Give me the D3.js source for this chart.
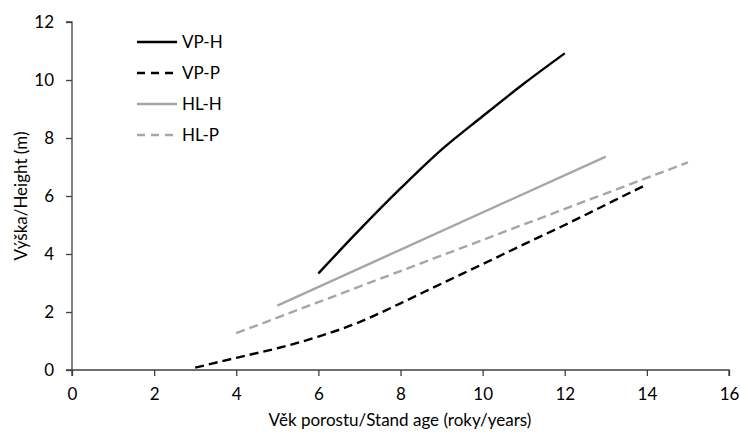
<!DOCTYPE html>
<html>
<head>
<meta charset="utf-8">
<script src="https://cdn.jsdelivr.net/npm/d3@7"></script>
<style>
  body { margin: 0; background: #fff; }
  text { font-family: Lato, "Open Sans", sans-serif; fill: #000; }
</style>
</head>
<body>
<div id="wrapper"></div>
<script>
// data
const vpH = [[6, 3.33], [7, 4.83], [8, 6.26], [9, 7.6], [10, 8.75], [11, 9.87], [12, 10.92]];
const vpP = [[3, 0.08], [4, 0.42], [5, 0.75], [6, 1.15], [7, 1.65], [8, 2.3], [9, 2.98], [10, 3.65], [11, 4.33], [12, 5.0], [13, 5.7], [14, 6.4]];
const hlH = [[5, 2.22], [13, 7.36]];
const hlP = [[4, 1.27], [15, 7.16]];
const seriesNames = ["VP-H", "VP-P", "HL-H", "HL-P"];
const xTicks = [0, 2, 4, 6, 8, 10, 12, 14, 16];
const yTicks = [0, 2, 4, 6, 8, 10, 12];

const series = [
  { name: seriesNames[0], values: vpH, color: "#000", dash: null },
  { name: seriesNames[1], values: vpP, color: "#000", dash: "9 5" },
  { name: seriesNames[2], values: hlH, color: "#a6a6a6", dash: null },
  { name: seriesNames[3], values: hlP, color: "#a6a6a6", dash: "9 5" },
];

const fontSize = "17px";

const dimensions = {
  width: 740,
  height: 432,
  margin: { top: 22, right: 11, bottom: 62, left: 72 },
};
dimensions.boundedWidth = dimensions.width - dimensions.margin.left - dimensions.margin.right;
dimensions.boundedHeight = dimensions.height - dimensions.margin.top - dimensions.margin.bottom;

const svg = d3.select("#wrapper").append("svg")
  .attr("width", dimensions.width)
  .attr("height", dimensions.height);

const bounds = svg.append("g")
  .attr("transform", `translate(${dimensions.margin.left},${dimensions.margin.top})`);

const xScale = d3.scaleLinear().domain([0, 16]).range([0, dimensions.boundedWidth]);
const yScale = d3.scaleLinear().domain([0, 12]).range([dimensions.boundedHeight, 0]);

// axes
const xAxis = bounds.append("g")
  .attr("transform", `translate(0,${dimensions.boundedHeight})`)
  .call(d3.axisBottom(xScale).tickValues(xTicks).tickSize(6).tickSizeOuter(6).tickPadding(12));
const yAxis = bounds.append("g")
  .call(d3.axisLeft(yScale).tickValues(yTicks).tickSize(6).tickSizeOuter(6).tickPadding(12));

[xAxis, yAxis].forEach((ax) => {
  ax.selectAll("path, line").attr("stroke", "#404040").attr("stroke-width", 1.3);
  ax.selectAll("text").style("font-size", fontSize).style("font-family", "Lato, sans-serif").attr("fill", "#000");
});
xAxis.select(".domain").attr("d", `M0,6V0H${dimensions.boundedWidth}V6`);
yAxis.select(".domain").attr("d", `M-6,0H0V${dimensions.boundedHeight}H-6`);

// lines
const lineGen = d3.line()
  .x((d) => xScale(d[0]))
  .y((d) => yScale(d[1]))
  .curve(d3.curveMonotoneX);
bounds.selectAll(".series")
  .data(series)
  .join("path")
  .attr("class", "series")
  .attr("d", (d) => lineGen(d.values))
  .attr("fill", "none")
  .attr("stroke", (d) => d.color)
  .attr("stroke-width", 2.4)
  .attr("stroke-dasharray", (d) => d.dash);

// legend
const legend = svg.append("g").attr("transform", "translate(137,42)");
const rows = legend.selectAll("g")
  .data(series)
  .join("g")
  .attr("transform", (d, i) => `translate(0,${i * 31})`);
rows.append("line")
  .attr("x1", 0).attr("x2", 40).attr("y1", 0).attr("y2", 0)
  .attr("stroke", (d) => d.color)
  .attr("stroke-width", 2.4)
  .attr("stroke-dasharray", (d) => d.dash ? "8 6" : null);
rows.append("text")
  .attr("x", 45).attr("y", 0).attr("dy", "0.35em")
  .style("font-size", fontSize)
  .text((d) => d.name);

// axis titles
svg.append("text")
  .attr("x", 400).attr("y", 426)
  .attr("text-anchor", "middle")
  .style("font-size", fontSize)
  .text("Věk porostu/Stand age (roky/years)");
svg.append("text")
  .attr("transform", "translate(21,196) rotate(-90)")
  .attr("text-anchor", "middle")
  .attr("dy", "0.35em")
  .style("font-size", fontSize)
  .text("Výška/Height (m)");
</script>
</body>
</html>
